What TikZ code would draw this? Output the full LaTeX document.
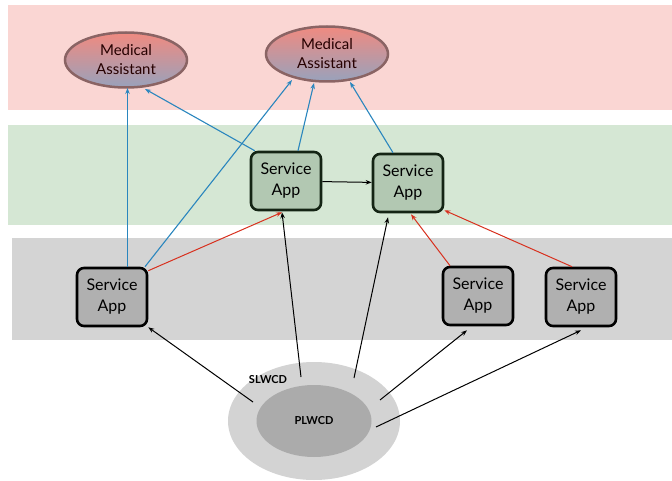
\documentclass[tikz,border=0pt]{standalone}
\usepackage{fontspec}
\setmainfont{Lato}
\usetikzlibrary{shapes.geometric,arrows.meta,calc}
\definecolor{bandpink}{HTML}{FAD6D3}
\definecolor{bandgreen}{HTML}{D5E7D4}
\definecolor{bandgray}{HTML}{D4D4D4}
\definecolor{matop}{HTML}{F08A80}
\definecolor{mabot}{HTML}{98A2BC}
\definecolor{maedge}{HTML}{8A6464}
\definecolor{appgreen}{HTML}{B2C8B2}
\definecolor{appedgeg}{HTML}{142414}
\definecolor{appgray}{HTML}{B0B0B0}
\definecolor{bluel}{HTML}{2A86BE}
\definecolor{redl}{HTML}{D8301E}
\definecolor{outerc}{HTML}{D3D3D3}
\definecolor{innerc}{HTML}{ABABAB}
\tikzset{
  ma/.style={ellipse, draw=maedge, line width=2.5pt, top color=matop, bottom color=mabot,
    minimum width=122pt, minimum height=55pt, inner sep=0pt, align=center,
    font=\fontsize{15}{19}\selectfont, text=black!85!red},
  appg/.style={rectangle, rounded corners=7pt, draw=appedgeg, line width=2.6pt, fill=appgreen,
    minimum width=70pt, minimum height=58pt, inner sep=0pt, align=center, font=\fontsize{16}{21}\selectfont},
  appy/.style={appg, draw=black, fill=appgray},
  bl/.style={draw=bluel, line width=1.1pt, -{Stealth[length=6pt,width=4.5pt]}},
  rl/.style={draw=redl, line width=1pt, -{Stealth[length=6pt,width=4.5pt]}},
  kl/.style={draw=black, line width=1pt, -{Stealth[length=6pt,width=4.5pt]}},
  lab/.style={font=\bfseries\fontsize{11}{13}\selectfont},
}
\begin{document}
\begin{tikzpicture}[x=1pt,y=-1pt]
\useasboundingbox (0,0) rectangle (672,481);
\fill[white] (0,0) rectangle (672,481);
% bands
\fill[bandpink] (8,5) rectangle (672,110);
\fill[bandgreen] (8,125) rectangle (672,225);
\fill[bandgray] (12,238) rectangle (672,340);
% cloud ellipses
\node[ellipse, fill=outerc, minimum width=172pt, minimum height=118pt, inner sep=0pt] (slw) at (314,421) {};
\node[ellipse, fill=innerc, minimum width=115pt, minimum height=72pt, inner sep=0pt, lab] (plw) at (314,421) {PLWCD};
\node[lab] (slwl) at (268,380) {SLWCD};
% medical assistants
\node[ma] (ma1) at (126,60) {Medical\\Assistant};
\node[ma] (ma2) at (327,54) {Medical\\Assistant};
% service apps
\node[appg] (sa1) at (286,181) {Service\\App};
\node[appg] (sa2) at (408,183) {Service\\App};
\node[appy] (ga) at (112,297) {Service\\App};
\node[appy] (gb) at (478,296) {Service\\App};
\node[appy] (gc) at (581,297) {Service\\App};
% start points on the cloud
\coordinate (c1) at (253,402);
\coordinate (c2) at (301,377);
\coordinate (c3) at (354,378);
\coordinate (c4) at (380,400);
\coordinate (c5) at (376,427);
% blue connectors
\draw[bl, line width=1.5pt] ($(ga.north)+(15.5,0)$) -- ($(ma1.center)+(1.5,28)$);
\draw[bl] ($(ga.north)+(33,0)$) -- ($(ma2.center)+(-35,26)$);
\draw[bl] ($(sa1.north west)+(5,0)$) -- ($(ma1.center)+(19,29)$);
\draw[bl] ($(sa1.north)+(12,0)$) -- ($(ma2.center)+(-13,29)$);
\draw[bl] ($(sa2.north)+(-15,0)$) -- ($(ma2.center)+(23,28)$);
% red connectors
\draw[rl] ($(ga.north east)+(0,4)$) -- ($(sa1.south)+(-4,1)$);
\draw[rl] ($(gb.north)+(-28,0)$) -- ($(sa2.south)+(3,1)$);
\draw[rl] ($(gc.north)+(-9,0)$) -- ($(sa2.south east)+(0,-3)$);
% black connectors
\draw[kl] (sa1) -- (sa2);
\draw[kl] (c1) -- (ga.south east);
\draw[kl] (c2) -- ($(sa1.south)+(-4,1)$);
\draw[kl] (c3) -- ($(sa2.south)+(-20,4)$);
\draw[kl] (c4) -- ($(gb.south)+(-11,4)$);
\draw[kl] (c5) -- ($(gc.south)+(0,3)$);
\end{tikzpicture}
\end{document}
